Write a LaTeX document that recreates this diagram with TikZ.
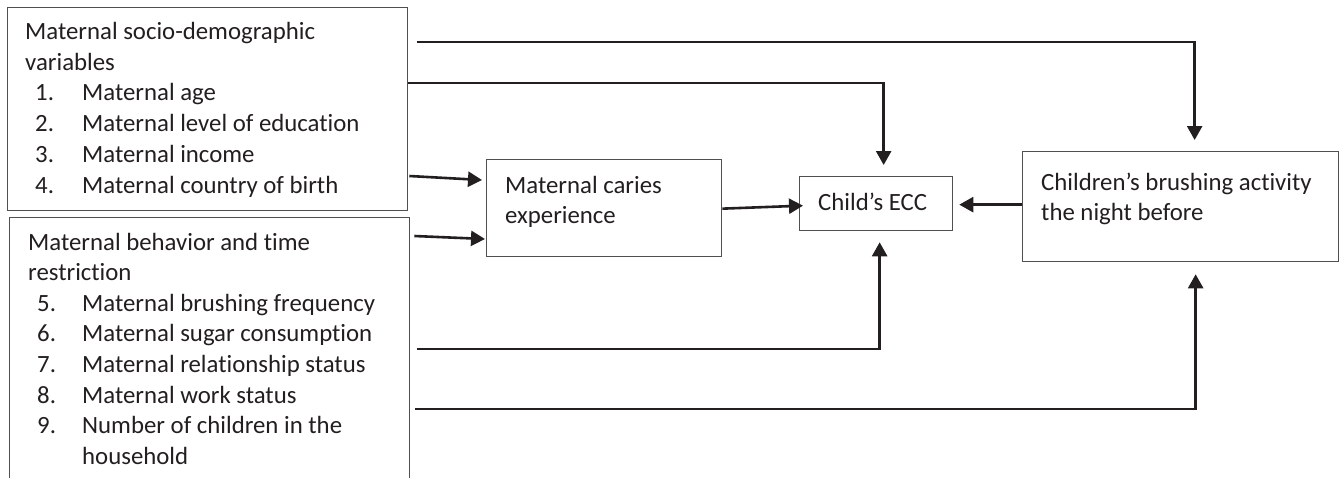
\documentclass[tikz,border=0pt]{standalone}
\usepackage{fontspec}
\setmainfont{Carlito}[Ligatures=NoCommon]
\usetikzlibrary{arrows.meta,calc}
\definecolor{ink}{HTML}{231F20}
\definecolor{frame}{HTML}{505050}
\tikzset{
  box/.style={draw=frame, line width=1.3pt, inner sep=0pt, anchor=north west},
  txt/.style={anchor=base west, inner sep=0pt, text=ink, font=\fontsize{24.8}{28}\selectfont},
  conn/.style={draw=ink, line width=2.6pt, -{Triangle[length=14pt,width=15pt]}},
}
\begin{document}
\begin{tikzpicture}[x=1pt,y=-1pt]
\clip (0,0) rectangle (1339,477);
\fill[white] (0,0) rectangle (1339,477);

% boxes
\node[box, minimum width=400pt, minimum height=203pt] (socio) at (7,7) {};
\node[box, minimum width=400pt, minimum height=300pt] (behav) at (9,217) {};
\node[box, minimum width=235pt, minimum height=97pt] (caries) at (486,159) {};
\node[box, minimum width=153pt, minimum height=54pt] (ecc) at (799,176) {};
\node[box, minimum width=316pt, minimum height=110pt] (brush) at (1022,151) {};

% texts: box 1
\node[txt] (s0) at (25,39.5) {Maternal socio-demographic};
\node[txt] (s1) at (25,70.2) {variables};
\foreach \n/\t [count=\k] in {1/Maternal age,2/Maternal level of education,3/Maternal income,4/Maternal country of birth}{
  \node[txt] (sn\k) at (35,{70.2+30.7*\k}) {\n.};
  \node[txt] (st\k) at (82,{70.2+30.7*\k}) {\t};
}
% texts: box 2
\node[txt] (b0) at (28,250) {Maternal behavior and time};
\node[txt] (b1) at (28,280.7) {restriction};
\foreach \n/\t [count=\k] in {5/Maternal brushing frequency,6/Maternal sugar consumption,7/Maternal relationship status,8/Maternal work status,9/Number of children in the}{
  \node[txt] (bn\k) at (37,{280.7+30.6*\k}) {\n.};
  \node[txt] (bt\k) at (82,{280.7+30.6*\k}) {\t};
}
\node[txt] (bt6) at (82,464) {household};

% texts: other boxes
\node[txt] (c0) at (505,193.5) {Maternal caries};
\node[txt] (c1) at (505,223) {experience};
\node[txt] (e0) at (818,210.5) {Child’s ECC};
\node[txt] (r0) at (1041,190.5) {Children’s brushing activity};
\node[txt] (r1) at (1041,220.5) {the night before};

% connectors
\draw[conn] ($(socio.north east)+(1,169)$) -- ($(caries.north west)+(-4,21)$);
\draw[conn] ($(behav.north east)+(4,19)$) -- ($(caries.north west)+(-1,80)$);
\draw[conn] ($(caries.east)+(0,0.5)$) -- ($(ecc.west)+(4,2)$);
\draw[conn] ($(brush.west)+(0,-2)$) -- ($(ecc.east)+(6,1)$);
\draw[conn] ($(socio.north east)+(9,35)$) -| ($(brush.north)+(14,-11)$);
\draw[conn] ($(socio.north east)+(0,76)$) -| ($(ecc.north)+(7.5,-11)$);
\draw[conn] ($(behav.north east)+(7,132)$) -| ($(ecc.south)+(3.5,11)$);
\draw[conn] ($(behav.north east)+(5,192)$) -| ($(brush.south)+(15,12)$);
\end{tikzpicture}
\end{document}
